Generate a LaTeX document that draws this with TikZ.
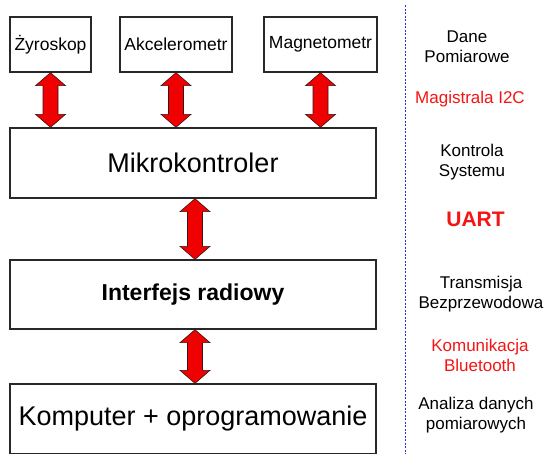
\documentclass[tikz,border=0pt]{standalone}
\usepackage{fontspec}
\setmainfont{Liberation Sans}
\usetikzlibrary{calc}

\tikzset{
  box/.style={draw={rgb,255:red,40;green,40;blue,40}, line width=1.3pt, inner sep=0pt, align=center},
  sbox/.style={box, minimum height=55pt, font=\fontsize{17.5}{20}\selectfont},
  bbox/.style={box, minimum width=366pt, minimum height=70pt},
  side/.style={anchor=base, align=center, inner sep=0pt, font=\fontsize{17}{20}\selectfont},
  sidered/.style={side, text={rgb,255:red,245;green,20;blue,20}},
  fatarrow/.style={fill={rgb,255:red,240;green,0;blue,0}, draw={rgb,255:red,60;green,20;blue,20}, line width=0.6pt, line join=miter}
}

% double red arrow between two boxes
\newcommand{\fatarrow}[3][0pt]{%
  \draw[fatarrow] let \p1=(#2.south), \p2=(#3.north) in
    (\x1+#1,\y1) -- (\x1+#1+15pt,\y1+13pt) -- (\x1+#1+7.5pt,\y1+13pt) -- (\x1+#1+7.5pt,\y2-13pt)
    -- (\x1+#1+15pt,\y2-13pt) -- (\x1+#1,\y2) -- (\x1+#1-15pt,\y2-13pt) -- (\x1+#1-7.5pt,\y2-13pt)
    -- (\x1+#1-7.5pt,\y1+13pt) -- (\x1+#1-15pt,\y1+13pt) -- cycle;}

\begin{document}
\begin{tikzpicture}[x=1pt,y=1pt,yscale=-1,xscale=1]
\useasboundingbox (0,0) rectangle (549,453);

% Sensors
\node[sbox, minimum width=81pt] (zyro) at (50.5,44.5) {Żyroskop};
\node[sbox, minimum width=112pt] (akcel) at (176,44.5) {Akcelerometr};
\node[sbox, minimum width=113pt] (magnet) at (320.5,44.5) {Magnetometr};

% Main blocks
\node[bbox, font=\fontsize{27}{30}\selectfont] (mikro) at (193,163) {Mikrokontroler};
\node[bbox, minimum height=69pt, font=\fontsize{23}{26}\selectfont\bfseries] (radio) at (193,294.5) {Interfejs radiowy};
\node[bbox, minimum height=70pt, font=\fontsize{27}{30}\selectfont] (komp) at (193,419) {Komputer + oprogramowanie};

% Arrows
\fatarrow{zyro}{mikro}
\fatarrow{akcel}{mikro}
\fatarrow{magnet}{mikro}
\fatarrow[2pt]{mikro}{radio}
\fatarrow[2pt]{radio}{komp}

% Separator
\coordinate (septop) at (405,5);
\coordinate (sepbot) at (405,455);
\draw[draw={rgb,255:red,30;green,50;blue,210}, line width=1pt, dash pattern=on 2pt off 1.5pt] (septop) -- (sepbot);

% Side labels (anchor on the last line)
\node[side] (dane) at (467,62.7) {Dane\\Pomiarowe};
\node[sidered] (i2c) at (470,103) {Magistrala I2C};
\node[side] (kontrola) at (472,176.7) {Kontrola\\Systemu};
\node[sidered, font=\fontsize{21}{24}\selectfont\bfseries] (uart) at (475.5,226) {UART};
\node[side] (trans) at (481,308) {Transmisja\\Bezprzewodowa};
\node[sidered] (bt) at (480,371.7) {Komunikacja\\Bluetooth};
\node[side] (analiza) at (476,429) {Analiza danych\\pomiarowych};

\end{tikzpicture}
\end{document}
